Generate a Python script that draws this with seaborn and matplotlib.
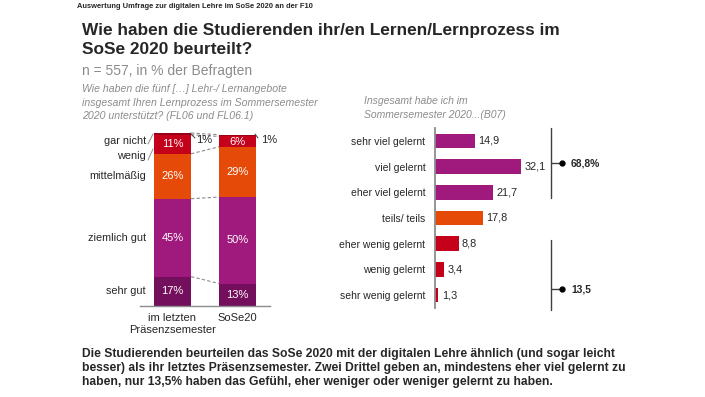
import numpy as np
import pandas as pd
import seaborn as sns
import matplotlib.pyplot as plt
from matplotlib.lines import Line2D

sns.set_style('white')
plt.rcParams['font.family'] = ['Liberation Sans', 'DejaVu Sans']

# left chart: stacked bars (bottom to top)
semester = ['im letzten\nPräsenzsemester', 'SoSe20']
rating = ['sehr gut', 'ziemlich gut', 'mittelmäßig', 'wenig', 'gar nicht']
vals_prev = [17, 45, 26, 11, 1]
vals_sose = [13, 50, 29, 6, 1]
rating_colors = ['#730f5d', '#a0197c', '#e64a08', '#c5001b', '#9c0019']

# right chart: horizontal bars
learn_cats = ['sehr viel gelernt', 'viel gelernt', 'eher viel gelernt', 'teils/ teils',
              'eher wenig gelernt', 'wenig gelernt', 'sehr wenig gelernt']
learn_vals = [14.9, 32.1, 21.7, 17.8, 8.8, 3.4, 1.3]
learn_colors = ['#a0197c', '#a0197c', '#a0197c', '#e64a08', '#c5001b', '#c5001b', '#c5001b']
summary_labels = ['68,8%', '13,5']

W, H = 705, 397
fig = plt.figure(figsize=(W / 100, H / 100), dpi=100)


def px(x, y):
    return x / W, 1 - y / H


def fline(xs, ys, **kw):
    fx = [x / W for x in xs]
    fy = [1 - y / H for y in ys]
    fig.add_artist(Line2D(fx, fy, **kw))


grey = '#8c8c8c'

# header texts
fig.text(*px(77, 6), 'Auswertung Umfrage zur digitalen Lehre im SoSe 2020 an der F10',
         fontsize=5.4, fontweight='bold', va='center')
fig.text(*px(82, 31), 'Wie haben die Studierenden ihr/en Lernen/Lernprozess im',
         fontsize=12.4, fontweight='bold', va='center')
fig.text(*px(82, 50), 'SoSe 2020 beurteilt?', fontsize=12.4, fontweight='bold', va='center')
fig.text(*px(82, 71), 'n = 557, in % der Befragten', fontsize=10, color='#8c8c8c', va='center')
for i, line in enumerate(['Wie haben die fünf […] Lehr-/ Lernangebote',
                          'insgesamt Ihren Lernprozess im Sommersemester',
                          '2020 unterstützt? (FL06 und FL06.1)']):
    fig.text(*px(82, 89 + i * 13.5), line, fontsize=7.6, style='italic', color='#8c8c8c', va='center')
for i, line in enumerate(['Insgesamt habe ich im', 'Sommersemester 2020...(B07)']):
    fig.text(*px(364, 101 + i * 13.5), line, fontsize=7.5, style='italic', color='#8c8c8c', va='center')

# bottom text
for i, line in enumerate(['Die Studierenden beurteilen das SoSe 2020 mit der digitalen Lehre ähnlich (und sogar leicht',
                          'besser) als ihr letztes Präsenzsemester. Zwei Drittel geben an, mindestens eher viel gelernt zu',
                          'haben, nur 13,5% haben das Gefühl, eher weniger oder weniger gelernt zu haben.']):
    fig.text(*px(82, 354 + i * 14), line, fontsize=8.7, fontweight='bold', va='center')

# ---------- left stacked chart ----------
axl = fig.add_axes([140 / W, 1 - 306 / H, 130 / W, 173 / H])
df = pd.DataFrame({'semester': semester})
cum_prev = np.cumsum(vals_prev)
cum_sose = np.cumsum(vals_sose)
for k in range(len(rating) - 1, -1, -1):
    df['cum'] = [cum_prev[k], cum_sose[k]]
    sns.barplot(data=df, x='semester', y='cum', color=rating_colors[k], saturation=1,
                width=0.57, linewidth=0, ax=axl)
axl.set_xlim(-0.5, 1.5)
axl.set_ylim(0, 100)
axl.set_xlabel('')
axl.set_ylabel('')
axl.set_yticks([])
axl.tick_params(axis='x', length=0, labelsize=8, pad=5)
for s in ['left', 'right', 'top']:
    axl.spines[s].set_visible(False)
axl.spines['bottom'].set_color(grey)
axl.spines['bottom'].set_linewidth(1)

# segment labels
for j, (vals, cum) in enumerate([(vals_prev, cum_prev), (vals_sose, cum_sose)]):
    for k, v in enumerate(vals):
        if v >= 5:
            axl.text(j, cum[k] - v / 2, f'{v}%', ha='center', va='center', color='white', fontsize=8)

# dashed connectors between bars
for k in range(len(rating)):
    axl.plot([0.285, 0.715], [cum_prev[k], cum_sose[k]], color=grey, lw=0.8,
             ls=(0, (3, 2)), clip_on=False)

# rating labels on the left
label_y = [cum_prev[0] / 2, cum_prev[0] + vals_prev[1] / 2, cum_prev[1] + vals_prev[2] / 2, 86.7, 95.4]
for k, name in enumerate(rating):
    axl.text(-0.41, label_y[k], name, ha='right', va='center', fontsize=7.8)
fline([148, 153], [144, 134], color=grey, lw=0.7)
fline([148, 153], [160, 149], color=grey, lw=0.7)

# "1%" labels
axl.text(0.36, 96.2, f'{vals_prev[4]}%', ha='left', va='center', fontsize=8)
axl.text(1.36, 96.2, f'{vals_sose[4]}%', ha='left', va='center', fontsize=8)
fline([190, 195], [133, 138], color='#404040', lw=0.7)
fline([255, 258], [134, 138], color='#404040', lw=0.7)

# ---------- right horizontal chart ----------
axr = fig.add_axes([435 / W, 1 - 308 / H, 110 / W, 180 / H])
dfr = pd.DataFrame({'cat': learn_cats, 'val': learn_vals})
sns.barplot(data=dfr, x='val', y='cat', hue='cat', palette=learn_colors, legend=False,
            saturation=1, width=0.57, linewidth=0, orient='h', ax=axr)
axr.set_xlim(0, 41)
axr.set_ylim(6.5, -0.5)
axr.set_xlabel('')
axr.set_ylabel('')
axr.set_xticks([])
axr.tick_params(axis='y', length=0, labelsize=7.5, pad=7)
for s in ['right', 'top', 'bottom']:
    axr.spines[s].set_visible(False)
axr.spines['left'].set_color(grey)
axr.spines['left'].set_linewidth(1.3)
for i, v in enumerate(learn_vals):
    axr.text(v + 1.2, i, f'{v:.1f}'.replace('.', ','), va='center', ha='left', fontsize=7.8)

# summary brackets
for (y0, y1, ym), lab in zip([(128, 198, 163), (240, 310, 289)], summary_labels):
    fline([551, 551], [y0, y1], color='#404040', lw=1)
    fline([551, 562], [ym, ym], color='#404040', lw=1)
    fig.add_artist(Line2D([562 / W], [1 - ym / H], marker='o', ms=3.5, color='black'))
    fig.text(*px(571, ym), lab, fontsize=7.4, fontweight='bold', va='center')

fig.savefig('out.png', dpi=100)
